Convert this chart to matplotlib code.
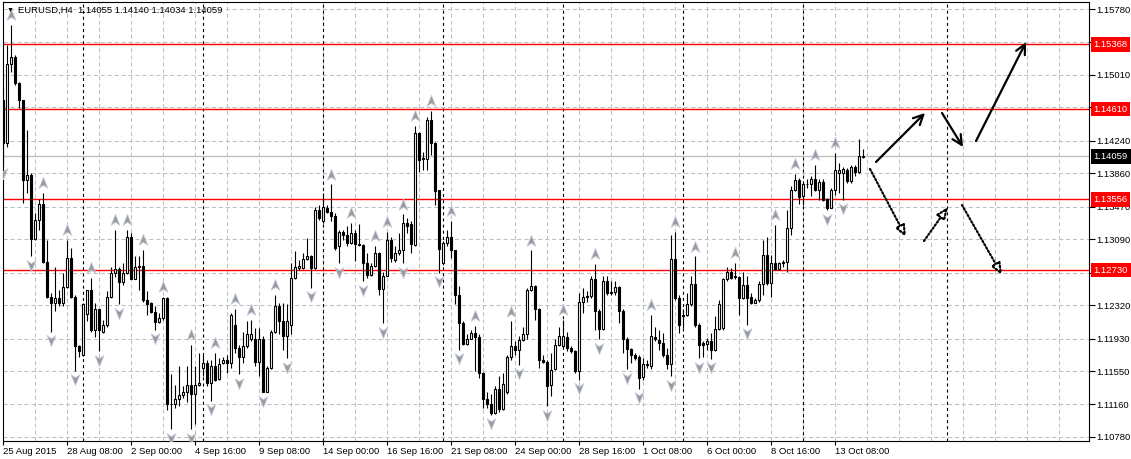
import matplotlib
matplotlib.use("Agg")
import matplotlib.pyplot as plt
from matplotlib.path import Path
from matplotlib.transforms import blended_transform_factory, offset_copy

plt.rcParams["font.family"] = ["Liberation Sans", "DejaVu Sans"]
plt.rcParams["lines.scale_dashes"] = False

# ---------------- data (EURUSD H4, one entry per bar) ----------------
opens = [
    1.1472, 1.1421, 1.1514, 1.1522, 1.1492, 1.1472, 1.1378, 1.1384, 1.1309, 1.1332,
    1.1350, 1.1282, 1.1242, 1.1235, 1.1240, 1.1235, 1.1253, 1.1287, 1.1242, 1.1184,
    1.1174, 1.1222, 1.1250, 1.1203, 1.1227, 1.1201, 1.1209, 1.1242, 1.1269, 1.1274,
    1.1259, 1.1269, 1.1312, 1.1263, 1.1278, 1.1278, 1.1238, 1.1235, 1.1224, 1.1212,
    1.1217, 1.1240, 1.1116, 1.1117, 1.1122, 1.1127, 1.1130, 1.1139, 1.1128, 1.1139,
    1.1159, 1.1164, 1.1141, 1.1161, 1.1146, 1.1164, 1.1168, 1.1164, 1.1209, 1.1182,
    1.1172, 1.1184, 1.1192, 1.1192, 1.1166, 1.1192, 1.1131, 1.1159, 1.1201, 1.1231,
    1.1213, 1.1196, 1.1209, 1.1264, 1.1275, 1.1275, 1.1286, 1.1290, 1.1276, 1.1343,
    1.1330, 1.1345, 1.1341, 1.1336, 1.1301, 1.1318, 1.1314, 1.1305, 1.1316, 1.1303,
    1.1302, 1.1281, 1.1267, 1.1278, 1.1293, 1.1251, 1.1266, 1.1308, 1.1285, 1.1293,
    1.1296, 1.1328, 1.1327, 1.1302, 1.1433, 1.1404, 1.1403, 1.1448, 1.1421, 1.1366,
    1.1281, 1.1305, 1.1312, 1.1296, 1.1244, 1.1211, 1.1187, 1.1192, 1.1200, 1.1195,
    1.1153, 1.1122, 1.1117, 1.1106, 1.1134, 1.1111, 1.1130, 1.1171, 1.1184, 1.1180,
    1.1191, 1.1198, 1.1250, 1.1254, 1.1227, 1.1168, 1.1166, 1.1139, 1.1157, 1.1186,
    1.1184, 1.1195, 1.1182, 1.1178, 1.1155, 1.1236, 1.1242, 1.1243, 1.1262, 1.1225,
    1.1204, 1.1260, 1.1246, 1.1247, 1.1253, 1.1225, 1.1192, 1.1181, 1.1174, 1.1172,
    1.1148, 1.1163, 1.1161, 1.1195, 1.1191, 1.1188, 1.1174, 1.1163, 1.1286, 1.1240,
    1.1219, 1.1221, 1.1233, 1.1257, 1.1209, 1.1188, 1.1187, 1.1190, 1.1180, 1.1204,
    1.1205, 1.1262, 1.1271, 1.1266, 1.1265, 1.1240, 1.1255, 1.1241, 1.1235, 1.1238,
    1.1257, 1.1291, 1.1258, 1.1281, 1.1274, 1.1281, 1.1283, 1.1322, 1.1367, 1.1378,
    1.1359, 1.1373, 1.1374, 1.1379, 1.1367, 1.1376, 1.1356, 1.1345, 1.1367, 1.1386,
    1.1386, 1.1390, 1.1377, 1.1394, 1.1388, 1.14055,
]
highs = [
    1.1485, 1.1536, 1.1559, 1.1524, 1.1493, 1.1472, 1.1437, 1.1386, 1.1340, 1.1356,
    1.1363, 1.1308, 1.1246, 1.1277, 1.1250, 1.1270, 1.1308, 1.1299, 1.1244, 1.1186,
    1.1235, 1.1250, 1.1264, 1.1235, 1.1228, 1.1215, 1.1248, 1.1277, 1.1320, 1.1277,
    1.1281, 1.1320, 1.1316, 1.1289, 1.1289, 1.1297, 1.1248, 1.1236, 1.1231, 1.1223,
    1.1242, 1.1241, 1.1151, 1.1139, 1.1161, 1.1137, 1.1161, 1.1186, 1.1161, 1.1176,
    1.1174, 1.1168, 1.1168, 1.1176, 1.1170, 1.1172, 1.1174, 1.1223, 1.1228, 1.1186,
    1.1201, 1.1213, 1.1215, 1.1205, 1.1205, 1.1196, 1.1161, 1.1203, 1.1244, 1.1235,
    1.1235, 1.1233, 1.1281, 1.1295, 1.1285, 1.1293, 1.1310, 1.1291, 1.1347, 1.1349,
    1.1363, 1.1349, 1.1373, 1.1340, 1.1320, 1.1320, 1.1324, 1.1328, 1.1320, 1.1327,
    1.1303, 1.1293, 1.1281, 1.1301, 1.1294, 1.1271, 1.1318, 1.1312, 1.1301, 1.1316,
    1.1338, 1.1334, 1.1330, 1.1441, 1.1434, 1.1411, 1.1452, 1.1459, 1.1423, 1.1367,
    1.1307, 1.1320, 1.1330, 1.1297, 1.1254, 1.1213, 1.1198, 1.1203, 1.1208, 1.1198,
    1.1154, 1.1130, 1.1128, 1.1137, 1.1149, 1.1153, 1.1174, 1.1213, 1.1190, 1.1196,
    1.1207, 1.1252, 1.1296, 1.1256, 1.1229, 1.1174, 1.1168, 1.1176, 1.1192, 1.1207,
    1.1215, 1.1201, 1.1184, 1.1180, 1.1246, 1.1252, 1.1248, 1.1266, 1.1280, 1.1227,
    1.1266, 1.1266, 1.1260, 1.1260, 1.1254, 1.1227, 1.1195, 1.1182, 1.1176, 1.1174,
    1.1170, 1.1168, 1.1221, 1.1207, 1.1203, 1.1200, 1.1182, 1.1314, 1.1318, 1.1244,
    1.1227, 1.1246, 1.1266, 1.1289, 1.1211, 1.1190, 1.1194, 1.1200, 1.1219, 1.1238,
    1.1264, 1.1277, 1.1275, 1.1281, 1.1266, 1.1271, 1.1266, 1.1246, 1.1240, 1.1260,
    1.1308, 1.1312, 1.1291, 1.1326, 1.1283, 1.1285, 1.1343, 1.1371, 1.1385, 1.1381,
    1.1377, 1.1379, 1.1383, 1.1396, 1.1379, 1.1379, 1.1357, 1.1369, 1.1410, 1.1398,
    1.1394, 1.1392, 1.1396, 1.1396, 1.1426, 1.14140,
]
lows = [
    1.1396, 1.1417, 1.1505, 1.1489, 1.1462, 1.1351, 1.1363, 1.1289, 1.1308, 1.1320,
    1.1281, 1.1240, 1.1201, 1.1225, 1.1231, 1.1231, 1.1252, 1.1240, 1.1155, 1.1172,
    1.1173, 1.1213, 1.1201, 1.1195, 1.1178, 1.1200, 1.1207, 1.1240, 1.1265, 1.1233,
    1.1256, 1.1268, 1.1262, 1.1262, 1.1250, 1.1236, 1.1221, 1.1223, 1.1203, 1.1211,
    1.1215, 1.1110, 1.1087, 1.1112, 1.1114, 1.1124, 1.1119, 1.1087, 1.1093, 1.1137,
    1.1149, 1.1137, 1.1120, 1.1143, 1.1145, 1.1163, 1.1153, 1.1159, 1.1176, 1.1151,
    1.1164, 1.1182, 1.1190, 1.1161, 1.1149, 1.1130, 1.1130, 1.1157, 1.1200, 1.1198,
    1.1180, 1.1170, 1.1198, 1.1262, 1.1273, 1.1274, 1.1285, 1.1252, 1.1274, 1.1332,
    1.1328, 1.1340, 1.1330, 1.1297, 1.1281, 1.1308, 1.1301, 1.1303, 1.1284, 1.1301,
    1.1260, 1.1264, 1.1266, 1.1277, 1.1244, 1.1211, 1.1266, 1.1283, 1.1283, 1.1291,
    1.1281, 1.1316, 1.1293, 1.1301, 1.1388, 1.1390, 1.1390, 1.1408, 1.1349, 1.1270,
    1.1279, 1.1301, 1.1287, 1.1233, 1.1180, 1.1186, 1.1186, 1.1192, 1.1155, 1.1147,
    1.1112, 1.1112, 1.1104, 1.1105, 1.1107, 1.1110, 1.1128, 1.1168, 1.1174, 1.1162,
    1.1190, 1.1192, 1.1248, 1.1215, 1.1159, 1.1164, 1.1114, 1.1126, 1.1156, 1.1184,
    1.1183, 1.1178, 1.1176, 1.1153, 1.1145, 1.1223, 1.1236, 1.1240, 1.1203, 1.1192,
    1.1203, 1.1244, 1.1244, 1.1244, 1.1211, 1.1176, 1.1157, 1.1164, 1.1168, 1.1134,
    1.1145, 1.1159, 1.1157, 1.1190, 1.1180, 1.1172, 1.1157, 1.1149, 1.1238, 1.1200,
    1.1205, 1.1219, 1.1231, 1.1207, 1.1170, 1.1172, 1.1180, 1.1169, 1.1179, 1.1203,
    1.1203, 1.1260, 1.1262, 1.1262, 1.1221, 1.1239, 1.1209, 1.1233, 1.1234, 1.1236,
    1.1244, 1.1256, 1.1242, 1.1273, 1.1273, 1.1277, 1.1271, 1.1314, 1.1365, 1.1350,
    1.1349, 1.1369, 1.1359, 1.1365, 1.1355, 1.1354, 1.1343, 1.1345, 1.1361, 1.1363,
    1.1355, 1.1375, 1.1375, 1.1383, 1.1386, 1.14034,
]
closes = [
    1.1421, 1.1514, 1.1522, 1.1492, 1.1472, 1.1378, 1.1384, 1.1309, 1.1332, 1.1350,
    1.1282, 1.1242, 1.1235, 1.1240, 1.1235, 1.1253, 1.1287, 1.1242, 1.1184, 1.1178,
    1.1233, 1.1250, 1.1203, 1.1227, 1.1203, 1.1209, 1.1242, 1.1269, 1.1274, 1.1259,
    1.1269, 1.1312, 1.1263, 1.1277, 1.1277, 1.1238, 1.1233, 1.1224, 1.1212, 1.1217,
    1.1240, 1.1116, 1.1117, 1.1122, 1.1127, 1.1130, 1.1139, 1.1128, 1.1139, 1.1141,
    1.1164, 1.1141, 1.1161, 1.1145, 1.1163, 1.1168, 1.1164, 1.1221, 1.1182, 1.1172,
    1.1184, 1.1198, 1.1198, 1.1166, 1.1192, 1.1131, 1.1159, 1.1201, 1.1231, 1.1213,
    1.1196, 1.1213, 1.1264, 1.1277, 1.1278, 1.1286, 1.1290, 1.1276, 1.1343, 1.1334,
    1.1347, 1.1341, 1.1336, 1.1299, 1.1318, 1.1314, 1.1305, 1.1316, 1.1303, 1.1302,
    1.1281, 1.1267, 1.1278, 1.1293, 1.1251, 1.1266, 1.1308, 1.1287, 1.1293, 1.1296,
    1.1328, 1.1324, 1.1303, 1.1433, 1.1402, 1.1403, 1.1448, 1.1421, 1.1365, 1.1298,
    1.1305, 1.1312, 1.1296, 1.1244, 1.1211, 1.1187, 1.1192, 1.1200, 1.1195, 1.1153,
    1.1122, 1.1117, 1.1106, 1.1134, 1.1111, 1.1140, 1.1171, 1.1184, 1.1180, 1.1191,
    1.1198, 1.1250, 1.1254, 1.1227, 1.1168, 1.1166, 1.1137, 1.1156, 1.1186, 1.1196,
    1.1196, 1.1182, 1.1178, 1.1155, 1.1236, 1.1242, 1.1243, 1.1262, 1.1225, 1.1204,
    1.1260, 1.1246, 1.1247, 1.1253, 1.1225, 1.1192, 1.1181, 1.1174, 1.1170, 1.1147,
    1.1163, 1.1162, 1.1196, 1.1192, 1.1188, 1.1174, 1.1163, 1.1286, 1.1240, 1.1209,
    1.1221, 1.1233, 1.1257, 1.1209, 1.1186, 1.1186, 1.1190, 1.1180, 1.1204, 1.1233,
    1.1262, 1.1271, 1.1264, 1.1265, 1.1240, 1.1255, 1.1240, 1.1235, 1.1238, 1.1257,
    1.1291, 1.1258, 1.1281, 1.1274, 1.1281, 1.1283, 1.1322, 1.1367, 1.1378, 1.1358,
    1.1374, 1.1374, 1.1379, 1.1367, 1.1376, 1.1355, 1.1345, 1.1367, 1.1390, 1.1390,
    1.1391, 1.1377, 1.1394, 1.1388, 1.1406, 1.14059,
]

# bars carrying a fractal mark
up_fractals = [2, 10, 16, 22, 28, 31, 35, 40, 47, 53, 58, 62, 68, 82, 87, 93, 96,
               100, 103, 107, 112, 118, 127, 132, 140, 148, 162, 168, 173, 183,
               193, 198, 203, 208]
down_fractals = [0, 7, 12, 18, 24, 29, 38, 42, 47, 52, 59, 65, 71, 77, 84, 90, 95,
                 100, 109, 114, 122, 129, 136, 144, 149, 156, 159, 167, 174, 177,
                 186, 206, 210]

# horizontal levels
red_levels = [1.15368, 1.14610, 1.13556, 1.12730]
bid_price = 1.14059

# price scale (labels hidden behind the level tags are left blank)
price_ticks = [1.10780, 1.11160, 1.11550, 1.11930, 1.12320, 1.12700, 1.13090,
               1.13470, 1.13860, 1.14240, 1.14630, 1.15010, 1.15398, 1.15780]
price_labels = ["1.10780", "1.11160", "1.11550", "1.11930", "1.12320", "", "1.13090",
                "1.13470", "1.13860", "1.14240", "", "1.15010", "", "1.15780"]

# time scale (label every 16 bars)
time_label_bars = [0, 16, 32, 48, 64, 80, 96, 112, 128, 144, 160, 176, 192, 208]
time_labels = ["25 Aug 2015", "28 Aug 08:00", "2 Sep 00:00", "4 Sep 16:00",
               "9 Sep 08:00", "14 Sep 00:00", "16 Sep 16:00", "21 Sep 08:00",
               "24 Sep 00:00", "28 Sep 16:00", "1 Oct 08:00", "6 Oct 00:00",
               "8 Oct 16:00", "13 Oct 08:00"]
separator_bars = [20, 50, 80, 110, 140, 170, 200, 236]

# drawn scenario arrows: (start bar, start price) -> (end bar, end price)
solid_arrows = [((218.25, 1.13993), (230.5, 1.14565)),
                ((234.75, 1.14565), (240.0, 1.14168)),
                ((243.25, 1.14238), (255.75, 1.15394))]
dotted_arrows = [((216.75, 1.13911), (225.75, 1.13116)),
                 ((230.25, 1.13070), (236.25, 1.13467)),
                 ((239.75, 1.13490), (249.75, 1.12673))]

header = "EURUSD,H4  1.14055 1.14140 1.14034 1.14059"

# ---------------- figure ----------------
W, H = 1131, 459
GRID = "#c0c0c0"
FS = 6.8

fig = plt.figure(figsize=(W / 100, H / 100), dpi=100)
ax = fig.add_axes([2.5 / W, (H - 441) / H, 1086.5 / W, 439 / H])
ax.set_xlim(-0.125, 271.5)
ax.set_ylim(1.10733, 1.15862)

for v in price_ticks:
    ax.axhline(v, color=GRID, lw=0.75, dashes=(3, 2), zorder=0)
for b in range(8, 272, 8):
    ax.axvline(b, color=GRID, lw=0.75, dashes=(3, 2), zorder=0)
for b in separator_bars:
    ax.axvline(b, color="black", lw=0.8, dashes=(2.2, 2.2), zorder=0.5)

ax.axhline(bid_price, color=GRID, lw=1.0, zorder=1)
for lv in red_levels:
    ax.axhline(lv, color="#ff0000", lw=1.0, zorder=1)

# candles
xs = list(range(len(opens)))
ax.vlines(xs, lows, highs, color="black", lw=0.8, zorder=2)
for i in xs:
    o, c = opens[i], closes[i]
    bottom = min(o, c)
    height = max(abs(c - o), 0.00003)
    fill = "white" if c >= o else "black"
    ax.bar(i, height, width=0.6, bottom=bottom, color=fill,
           edgecolor="black", linewidth=0.8, zorder=3)

# fractal marks
up_path = Path([(0, 1), (0.72, -0.8), (0, -0.3), (-0.72, -0.8), (0, 1)],
               [Path.MOVETO, Path.LINETO, Path.LINETO, Path.LINETO, Path.CLOSEPOLY])
down_path = Path([(0, -1), (0.72, 0.8), (0, 0.3), (-0.72, 0.8), (0, -1)],
                 [Path.MOVETO, Path.LINETO, Path.LINETO, Path.LINETO, Path.CLOSEPOLY])
ax.scatter(up_fractals, [highs[i] + 0.00115 for i in up_fractals], marker=up_path,
           s=80, facecolor="#9a9a9a", edgecolor="#c8d2e4", linewidth=0.6, zorder=4)
ax.scatter(down_fractals, [lows[i] - 0.00098 for i in down_fractals], marker=down_path,
           s=80, facecolor="#9a9a9a", edgecolor="#c8d2e4", linewidth=0.6, zorder=4)

# scenario arrows
for (x0, y0), (x1, y1) in solid_arrows:
    ax.annotate("", xy=(x1, y1), xytext=(x0, y0),
                arrowprops=dict(arrowstyle="->,head_length=0.7,head_width=0.35",
                                color="black", lw=1.6, shrinkA=0, shrinkB=0))
for (x0, y0), (x1, y1) in dotted_arrows:
    ax.annotate("", xy=(x1, y1), xytext=(x0, y0),
                arrowprops=dict(arrowstyle="-|>,head_length=0.7,head_width=0.3",
                                color="black", fc="white", lw=1.6,
                                ls=(0, (1.1, 1.6)), shrinkA=0, shrinkB=0))

# axes, ticks
for sp in ax.spines.values():
    sp.set_linewidth(0.8)
    sp.set_color("black")
ax.yaxis.tick_right()
ax.set_yticks(price_ticks)
ax.set_yticklabels(price_labels)
ax.set_xticks(time_label_bars)
ax.set_xticklabels(time_labels, ha="left")
ax.tick_params(axis="y", length=4, width=0.8, pad=1.5, labelsize=FS)
ax.tick_params(axis="x", length=3, width=0.8, pad=1.5, labelsize=FS)

# price tags on the right edge
tag_trans = offset_copy(blended_transform_factory(ax.transAxes, ax.transData),
                        fig=fig, x=4.5, y=0, units="dots")
for lv in red_levels:
    ax.text(1.0, lv, f"{lv:.5f}", transform=tag_trans, ha="left", va="center",
            fontsize=FS, color="white", clip_on=False, zorder=6,
            bbox=dict(boxstyle="square,pad=0.3", fc="red", ec="none"))
ax.text(1.0, bid_price, f"{bid_price:.5f}", transform=tag_trans, ha="left",
        va="center", fontsize=FS, color="white", clip_on=False, zorder=6,
        bbox=dict(boxstyle="square,pad=0.3", fc="black", ec="none"))

# header
fig.text(10 / W, 1 - 10 / H, "▼", fontsize=5, ha="center", va="center")
fig.text(18 / W, 1 - 10 / H, header, fontsize=FS, ha="left", va="center")

fig.savefig("out.png", dpi=100)
